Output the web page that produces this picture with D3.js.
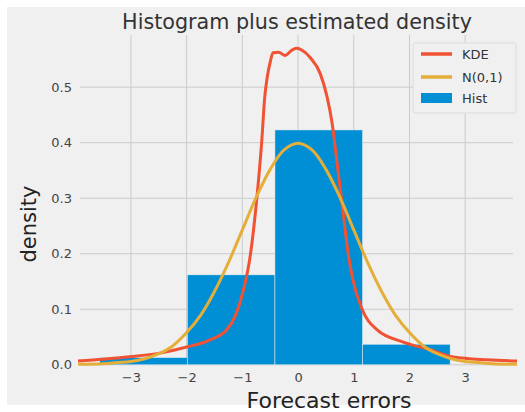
<!DOCTYPE html>
<html>
<head>
<meta charset="utf-8">
<script src="https://cdn.jsdelivr.net/npm/d3@7"></script>
<style>
  html, body { margin: 0; padding: 0; background: #ffffff; }
  svg { display: block; }
</style>
</head>
<body>
<div id="chart"></div>
<script>
// Histogram of forecast errors (density-normalised bins)
const binEdges = [-3.56, -1.9875, -0.415, 1.1575, 2.73];
const binDensity = [0.013, 0.162, 0.423, 0.037];

// Kernel density estimate of the errors
const kdeX = [-3.95, -3.5, -3.08, -2.48, -2.0, -1.58, -1.28, -1.12, -0.98, -0.86, -0.74, -0.65, -0.60, -0.55, -0.50, -0.45, -0.35, -0.23, -0.12, -0.03, 0.08, 0.22, 0.40, 0.52, 0.61, 0.70, 0.81, 0.90, 0.98, 1.15, 1.42, 1.89, 2.37, 2.79, 3.40, 3.93];
const kdeY = [0.007, 0.010, 0.014, 0.021, 0.032, 0.045, 0.063, 0.090, 0.135, 0.195, 0.300, 0.405, 0.480, 0.520, 0.545, 0.562, 0.563, 0.557, 0.566, 0.570, 0.566, 0.553, 0.524, 0.483, 0.436, 0.364, 0.273, 0.200, 0.155, 0.100, 0.063, 0.041, 0.027, 0.014, 0.009, 0.007];

// Reference standard normal curve N(0,1)
const normX = [-3.95, -3.5, -3.25, -3.0, -2.75, -2.5, -2.25, -2.0, -1.75, -1.5, -1.25, -1.0, -0.75, -0.5, -0.25, 0, 0.25, 0.5, 0.75, 1.0, 1.25, 1.5, 1.75, 2.0, 2.25, 2.5, 2.75, 3.0, 3.25, 3.5, 3.93];
const normY = [0.001, 0.002, 0.004, 0.006, 0.011, 0.020, 0.034, 0.058, 0.089, 0.132, 0.184, 0.243, 0.302, 0.352, 0.387, 0.399, 0.387, 0.352, 0.302, 0.243, 0.184, 0.132, 0.089, 0.058, 0.034, 0.020, 0.011, 0.006, 0.004, 0.002, 0.001];

const xTicks = [-3, -2, -1, 0, 1, 2, 3];
const yTicks = [0.0, 0.1, 0.2, 0.3, 0.4, 0.5];

const legendLabels = ["KDE", "N(0,1)", "Hist"];
const titleText = "Histogram plus estimated density";
const xLabelText = "Forecast errors";
const yLabelText = "density";

const W = 525, H = 412;
const colors = { kde: "#f05233", norm: "#e5ae38", hist: "#008fd5", grid: "#cbcbcb", bg: "#f0f0f0" };

const plot = { left: 78, right: 517, top: 35, bottom: 364.8 };

const x = d3.scaleLinear().domain([-3.95, 3.93]).range([plot.left, plot.right]);
const y = d3.scaleLinear().domain([0, 0.594]).range([plot.bottom, plot.top]);

const svg = d3.select("#chart").append("svg")
  .attr("width", W).attr("height", H)
  .style("font-family", "'DejaVu Sans', sans-serif");

// figure background
svg.append("rect").attr("x", 7).attr("y", 7).attr("width", W - 7).attr("height", 398).attr("fill", colors.bg);

// grid
const grid = svg.append("g");
grid.selectAll("line.h").data(yTicks).join("line")
  .attr("x1", plot.left + 2).attr("x2", plot.right - 4)
  .attr("y1", d => y(d)).attr("y2", d => y(d))
  .attr("stroke", colors.grid).attr("stroke-width", 1);
grid.selectAll("line.v").data(xTicks).join("line")
  .attr("x1", d => x(d)).attr("x2", d => x(d))
  .attr("y1", plot.top).attr("y2", plot.bottom)
  .attr("stroke", colors.grid).attr("stroke-width", 1);

// axes (labels only, no spines or tick marks)
const yAxis = svg.append("g").attr("transform", `translate(${plot.left - 6},0)`)
  .call(d3.axisLeft(y).tickValues(yTicks).tickFormat(d3.format(".1f")).tickSize(0).tickPadding(0));
const xAxis = svg.append("g").attr("transform", `translate(0,${plot.bottom + 5})`)
  .call(d3.axisBottom(x).tickValues(xTicks).tickFormat(d => d < 0 ? "\u2212" + Math.abs(d) : String(d)).tickSize(0).tickPadding(0));
[xAxis, yAxis].forEach(a => {
  a.select(".domain").remove();
  a.selectAll("text").attr("fill", "#444").style("font-size", "13px").style("font-family", "'DejaVu Sans', sans-serif");
});
xAxis.selectAll("text").attr("dy", "0.9em");

// histogram bars
const bins = binDensity.map((d, i) => ({ x0: binEdges[i], x1: binEdges[i + 1], v: d }));
svg.append("g").selectAll("rect").data(bins).join("rect")
  .attr("x", d => x(d.x0)).attr("width", d => x(d.x1) - x(d.x0))
  .attr("y", d => y(d.v)).attr("height", d => y(0) - y(d.v))
  .attr("fill", colors.hist).attr("stroke", colors.bg).attr("stroke-width", 0.5);

// density curves
const line = d3.line().x(d => x(d[0])).y(d => y(d[1]));
svg.append("path").datum(d3.zip(kdeX, kdeY))
  .attr("d", line.curve(d3.curveMonotoneX))
  .attr("fill", "none").attr("stroke", colors.kde).attr("stroke-width", 3);
svg.append("path").datum(d3.zip(normX, normY))
  .attr("d", line.curve(d3.curveCatmullRom))
  .attr("fill", "none").attr("stroke", colors.norm).attr("stroke-width", 3);

// title and axis labels
svg.append("text").attr("x", 297).attr("y", 29).attr("text-anchor", "middle")
  .style("font-size", "20.7px").attr("fill", "#333").text(titleText);
svg.append("text").attr("x", 329).attr("y", 408).attr("text-anchor", "middle")
  .style("font-size", "22px").attr("fill", "#222").text(xLabelText);
svg.append("text").attr("transform", "translate(36,224) rotate(-90)").attr("text-anchor", "middle")
  .style("font-size", "21px").attr("fill", "#222").text(yLabelText);

// legend
const lg = svg.append("g");
lg.append("rect").attr("x", 413).attr("y", 43).attr("width", 103).attr("height", 70).attr("rx", 2)
  .attr("fill", colors.bg).attr("stroke", "#dcdcdc").attr("stroke-width", 1);
const legendItems = [
  { label: legendLabels[0], color: colors.kde, type: "line", cy: 54 },
  { label: legendLabels[1], color: colors.norm, type: "line", cy: 77 },
  { label: legendLabels[2], color: colors.hist, type: "patch", cy: 98 }
];
legendItems.forEach(it => {
  if (it.type === "line") {
    lg.append("line").attr("x1", 421).attr("x2", 452).attr("y1", it.cy).attr("y2", it.cy)
      .attr("stroke", it.color).attr("stroke-width", 3.5);
  } else {
    lg.append("rect").attr("x", 421).attr("y", it.cy - 5).attr("width", 31).attr("height", 10)
      .attr("fill", it.color);
  }
  lg.append("text").attr("x", 462).attr("y", it.cy).attr("dy", "0.35em")
    .style("font-size", "13px").attr("fill", "#333").text(it.label);
});
</script>
</body>
</html>
